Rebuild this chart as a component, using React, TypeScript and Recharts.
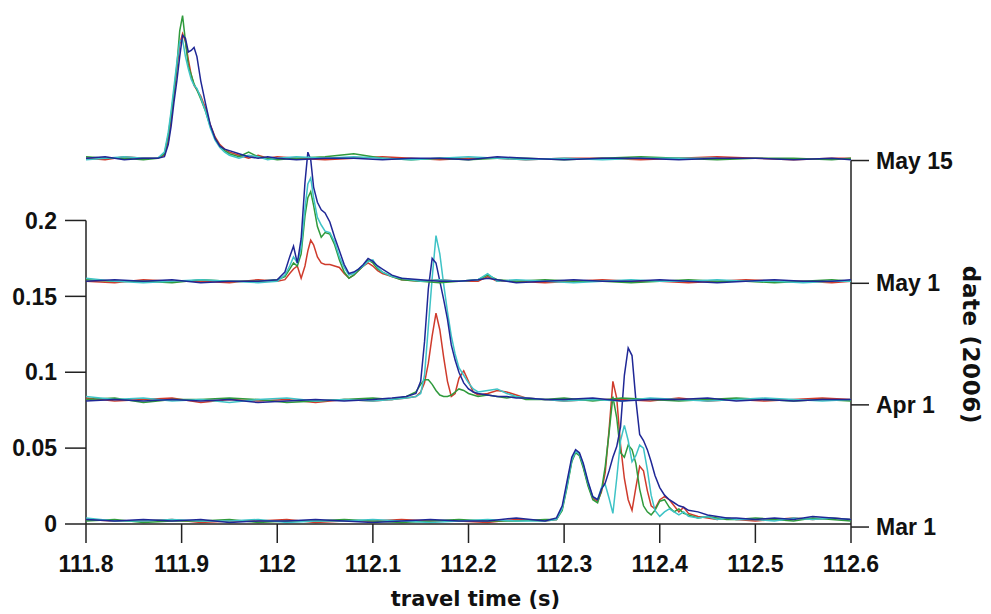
import React from "react";
import { LineChart, Line, XAxis, YAxis, ReferenceLine, Label } from "recharts";

// ---- axis ticks / labels ----
const xTicks = [111.8, 111.9, 112, 112.1, 112.2, 112.3, 112.4, 112.5, 112.6];
const leftTicks = [0, 0.05, 0.1, 0.15, 0.2];
const dateTicks = [-0.002, 0.0785, 0.1586, 0.2395];
const dateLabels = ["Mar 1", "Apr 1", "May 1", "May 15"];
const xTitle = "travel time (s)";
const rightTitle = "date (2006)";

const seriesColors = { red: "#cf3b2c", green: "#2f9a3c", cyan: "#3ec3c6", blue: "#1f2796" };

// ---- Mar 1 ----
const marTime = [111.8, 111.83, 111.86, 111.89, 111.92, 111.95, 111.98, 112.01, 112.04, 112.07, 112.1, 112.13, 112.16, 112.19, 112.22, 112.25, 112.28, 112.292, 112.298, 112.303, 112.308, 112.312, 112.316, 112.32, 112.325, 112.33, 112.335, 112.339, 112.343, 112.347, 112.351, 112.355, 112.359, 112.363, 112.367, 112.371, 112.375, 112.379, 112.383, 112.387, 112.391, 112.395, 112.4, 112.405, 112.41, 112.415, 112.42, 112.425, 112.43, 112.44, 112.45, 112.46, 112.47, 112.48, 112.5, 112.52, 112.54, 112.56, 112.58, 112.6];
const marRed = [0.003, 0.002, 0.002, 0.003, 0.001, 0.002, 0.002, 0.003, 0.001, 0.002, 0.002, 0.003, 0.002, 0.002, 0.001, 0.003, 0.002, 0.003, 0.01, 0.026, 0.042, 0.048, 0.046, 0.038, 0.026, 0.017, 0.015, 0.021, 0.034, 0.062, 0.094, 0.083, 0.052, 0.03, 0.016, 0.009, 0.024, 0.038, 0.035, 0.022, 0.012, 0.01, 0.016, 0.018, 0.016, 0.012, 0.008, 0.011, 0.007, 0.005, 0.004, 0.003, 0.004, 0.003, 0.002, 0.003, 0.004, 0.003, 0.004, 0.003];
const marGreen = [0.002, 0.003, 0.001, 0.002, 0.002, 0.003, 0.001, 0.002, 0.002, 0.003, 0.002, 0.001, 0.002, 0.003, 0.002, 0.002, 0.003, 0.003, 0.009, 0.024, 0.041, 0.047, 0.045, 0.037, 0.025, 0.016, 0.014, 0.022, 0.038, 0.06, 0.084, 0.07, 0.047, 0.044, 0.052, 0.049, 0.04, 0.023, 0.012, 0.008, 0.006, 0.009, 0.015, 0.016, 0.011, 0.008, 0.01, 0.007, 0.006, 0.004, 0.005, 0.004, 0.003, 0.003, 0.004, 0.003, 0.002, 0.004, 0.003, 0.002];
const marBlue = [0.003, 0.002, 0.003, 0.002, 0.003, 0.001, 0.002, 0.002, 0.003, 0.002, 0.001, 0.002, 0.003, 0.002, 0.002, 0.004, 0.002, 0.004, 0.012, 0.028, 0.044, 0.049, 0.047, 0.04, 0.028, 0.018, 0.016, 0.023, 0.027, 0.035, 0.044, 0.051, 0.064, 0.098, 0.116, 0.111, 0.082, 0.059, 0.055, 0.049, 0.041, 0.032, 0.024, 0.019, 0.016, 0.014, 0.012, 0.011, 0.009, 0.008, 0.006, 0.005, 0.004, 0.004, 0.003, 0.004, 0.003, 0.005, 0.004, 0.003];
const marCyan = [0.004, 0.002, 0.002, 0.003, 0.002, 0.002, 0.003, 0.001, 0.002, 0.002, 0.003, 0.002, 0.001, 0.002, 0.003, 0.002, 0.002, 0.003, 0.01, 0.025, 0.042, 0.048, 0.046, 0.039, 0.027, 0.018, 0.016, 0.024, 0.026, 0.017, 0.007, 0.03, 0.055, 0.065, 0.055, 0.041, 0.045, 0.052, 0.05, 0.036, 0.019, 0.009, 0.005, 0.008, 0.01, 0.008, 0.006, 0.008, 0.005, 0.004, 0.005, 0.003, 0.004, 0.003, 0.003, 0.002, 0.004, 0.003, 0.004, 0.003];

// ---- Apr 1 ----
const aprTime = [111.8, 111.83, 111.86, 111.89, 111.92, 111.95, 111.98, 112.01, 112.04, 112.07, 112.1, 112.12, 112.135, 112.145, 112.15, 112.154, 112.158, 112.162, 112.166, 112.17, 112.174, 112.178, 112.182, 112.186, 112.19, 112.195, 112.2, 112.205, 112.21, 112.22, 112.23, 112.24, 112.25, 112.26, 112.28, 112.3, 112.33, 112.36, 112.39, 112.42, 112.45, 112.48, 112.51, 112.54, 112.57, 112.6];
const aprRed = [0.083, 0.081, 0.082, 0.083, 0.08, 0.082, 0.081, 0.082, 0.08, 0.082, 0.081, 0.082, 0.083, 0.084, 0.087, 0.093, 0.106, 0.124, 0.139, 0.128, 0.11, 0.094, 0.084, 0.086, 0.096, 0.101, 0.094, 0.087, 0.085, 0.086, 0.088, 0.087, 0.085, 0.083, 0.082, 0.081, 0.082, 0.082, 0.081, 0.083, 0.081, 0.082, 0.081, 0.082, 0.083, 0.082];
const aprGreen = [0.082, 0.083, 0.08, 0.082, 0.082, 0.083, 0.082, 0.08, 0.081, 0.082, 0.083, 0.082, 0.084, 0.087, 0.092, 0.095, 0.095, 0.092, 0.088, 0.085, 0.084, 0.084, 0.085, 0.087, 0.089, 0.088, 0.086, 0.085, 0.084, 0.085, 0.084, 0.083, 0.084, 0.082, 0.082, 0.083, 0.081, 0.083, 0.082, 0.081, 0.082, 0.083, 0.082, 0.081, 0.082, 0.081];
const aprBlue = [0.081, 0.082, 0.081, 0.082, 0.081, 0.082, 0.08, 0.081, 0.082, 0.081, 0.082, 0.083, 0.084, 0.086, 0.094, 0.12, 0.155, 0.175, 0.172, 0.16, 0.148, 0.135, 0.118, 0.108, 0.1, 0.093, 0.089, 0.087, 0.086, 0.085, 0.084, 0.084, 0.083, 0.083, 0.082, 0.082, 0.083, 0.081, 0.082, 0.082, 0.083, 0.081, 0.082, 0.081, 0.082, 0.082];
const aprCyan = [0.084, 0.082, 0.083, 0.081, 0.082, 0.08, 0.082, 0.083, 0.081, 0.082, 0.081, 0.082, 0.083, 0.084, 0.086, 0.098, 0.13, 0.162, 0.19, 0.178, 0.158, 0.14, 0.124, 0.112, 0.103, 0.098, 0.093, 0.089, 0.087, 0.088, 0.089, 0.086, 0.084, 0.083, 0.082, 0.081, 0.082, 0.081, 0.083, 0.082, 0.081, 0.082, 0.083, 0.082, 0.081, 0.082];

// ---- May 1 ----
const may1Time = [111.8, 111.83, 111.86, 111.89, 111.92, 111.95, 111.98, 112.0, 112.008, 112.013, 112.017, 112.021, 112.025, 112.029, 112.032, 112.035, 112.038, 112.042, 112.046, 112.05, 112.055, 112.06, 112.065, 112.07, 112.075, 112.08, 112.085, 112.09, 112.095, 112.1, 112.105, 112.11, 112.12, 112.13, 112.15, 112.17, 112.19, 112.21, 112.22, 112.23, 112.25, 112.28, 112.31, 112.34, 112.37, 112.4, 112.43, 112.46, 112.49, 112.52, 112.55, 112.58, 112.6];
const may1Red = [0.16, 0.159, 0.161, 0.16, 0.16, 0.159, 0.161, 0.16, 0.161, 0.165, 0.168, 0.17, 0.162, 0.17, 0.18, 0.187, 0.184, 0.176, 0.172, 0.171, 0.171, 0.17, 0.169, 0.165, 0.162, 0.164, 0.167, 0.17, 0.172, 0.17, 0.167, 0.165, 0.163, 0.161, 0.16, 0.161, 0.16, 0.16, 0.163, 0.16, 0.16, 0.159, 0.16, 0.161, 0.16, 0.16, 0.159, 0.16, 0.161, 0.16, 0.16, 0.159, 0.16];
const may1Green = [0.161, 0.16, 0.16, 0.159, 0.161, 0.16, 0.16, 0.161, 0.163, 0.168, 0.172, 0.17, 0.178, 0.203, 0.215, 0.219, 0.21, 0.196, 0.189, 0.192, 0.191, 0.184, 0.174, 0.166, 0.162, 0.164, 0.167, 0.17, 0.174, 0.172, 0.168, 0.166, 0.163, 0.161, 0.16, 0.159, 0.16, 0.161, 0.164, 0.161, 0.16, 0.161, 0.16, 0.16, 0.159, 0.16, 0.161, 0.16, 0.16, 0.159, 0.16, 0.161, 0.16];
const may1Blue = [0.16, 0.161, 0.16, 0.161, 0.159, 0.16, 0.16, 0.161, 0.166, 0.176, 0.183, 0.172, 0.188, 0.225, 0.245, 0.24, 0.222, 0.212, 0.207, 0.205, 0.199, 0.189, 0.18, 0.171, 0.165, 0.166, 0.168, 0.171, 0.175, 0.173, 0.17, 0.168, 0.164, 0.162, 0.161, 0.16, 0.16, 0.161, 0.162, 0.161, 0.159, 0.16, 0.161, 0.16, 0.16, 0.161, 0.16, 0.159, 0.16, 0.161, 0.16, 0.16, 0.161];
const may1Cyan = [0.162, 0.16, 0.159, 0.16, 0.161, 0.16, 0.159, 0.16, 0.164, 0.17, 0.176, 0.172, 0.182, 0.208, 0.224, 0.228, 0.215, 0.202, 0.197, 0.193, 0.192, 0.186, 0.176, 0.169, 0.164, 0.165, 0.168, 0.17, 0.173, 0.174, 0.169, 0.166, 0.163, 0.162, 0.16, 0.161, 0.16, 0.161, 0.165, 0.16, 0.161, 0.16, 0.159, 0.16, 0.161, 0.16, 0.16, 0.161, 0.16, 0.16, 0.159, 0.16, 0.16];

// ---- May 15 ----
const may15Time = [111.8, 111.82, 111.84, 111.86, 111.875, 111.882, 111.886, 111.889, 111.892, 111.895, 111.898, 111.901, 111.904, 111.907, 111.91, 111.913, 111.916, 111.92, 111.925, 111.93, 111.935, 111.94, 111.945, 111.95, 111.96, 111.97, 111.98, 111.99, 112.0, 112.02, 112.05, 112.08, 112.11, 112.14, 112.17, 112.2, 112.23, 112.26, 112.3, 112.34, 112.38, 112.42, 112.46, 112.5, 112.54, 112.58, 112.6];
const may15Red = [0.241, 0.24, 0.242, 0.241, 0.241, 0.243, 0.252, 0.266, 0.283, 0.3, 0.316, 0.323, 0.318, 0.306, 0.296, 0.289, 0.286, 0.282, 0.274, 0.263, 0.255, 0.25, 0.247, 0.245, 0.243, 0.241, 0.243, 0.241, 0.242, 0.241, 0.24, 0.241, 0.242, 0.241, 0.24, 0.241, 0.241, 0.24, 0.241, 0.241, 0.24, 0.241, 0.242, 0.241, 0.24, 0.241, 0.241];
const may15Green = [0.242, 0.241, 0.241, 0.24, 0.241, 0.244, 0.256, 0.27, 0.285, 0.302, 0.325, 0.335, 0.318, 0.302, 0.296, 0.29, 0.286, 0.28, 0.272, 0.262, 0.254, 0.249, 0.246, 0.244, 0.242, 0.245, 0.242, 0.241, 0.24, 0.241, 0.242, 0.244, 0.241, 0.24, 0.241, 0.24, 0.241, 0.241, 0.24, 0.241, 0.242, 0.241, 0.24, 0.241, 0.241, 0.24, 0.241];
const may15Blue = [0.241, 0.242, 0.24, 0.241, 0.241, 0.242, 0.25, 0.262, 0.278, 0.292, 0.308, 0.322, 0.32, 0.311, 0.312, 0.314, 0.308, 0.292, 0.277, 0.263, 0.254, 0.249, 0.247, 0.246, 0.244, 0.242, 0.241, 0.242, 0.241, 0.24, 0.241, 0.241, 0.24, 0.241, 0.241, 0.24, 0.242, 0.241, 0.24, 0.241, 0.241, 0.24, 0.241, 0.241, 0.24, 0.241, 0.24];
const may15Cyan = [0.24, 0.241, 0.242, 0.241, 0.241, 0.245, 0.258, 0.272, 0.288, 0.304, 0.318, 0.319, 0.308, 0.3, 0.293, 0.289, 0.287, 0.281, 0.272, 0.261, 0.253, 0.248, 0.245, 0.243, 0.241, 0.243, 0.242, 0.24, 0.241, 0.242, 0.241, 0.242, 0.241, 0.24, 0.241, 0.242, 0.241, 0.24, 0.241, 0.24, 0.241, 0.241, 0.241];

const mk = (times: number[], vals: number[]) => times.map((t, i) => ({ t, v: vals[i] }));

const groups = [
  { name: "mar", time: marTime, red: marRed, green: marGreen, cyan: marCyan, blue: marBlue },
  { name: "apr", time: aprTime, red: aprRed, green: aprGreen, cyan: aprCyan, blue: aprBlue },
  { name: "may1", time: may1Time, red: may1Red, green: may1Green, cyan: may1Cyan, blue: may1Blue },
  { name: "may15", time: may15Time, red: may15Red, green: may15Green, cyan: may15Cyan, blue: may15Blue },
];

const colorOrder: Array<"red" | "green" | "cyan" | "blue"> = ["red", "green", "cyan", "blue"];

const numFont = { fontFamily: "'Liberation Sans', Arial, sans-serif", fontWeight: 700, fontSize: 23, fill: "#111" };
const axisStroke = "#222";

const XTitle = (props: any) => {
  const vb = props.viewBox || { x: 78, y: 516, width: 765, height: 90 };
  const x = vb.x + vb.width / 2 + 7;
  const y = vb.y + vb.height - 8;
  return (
    <text x={x} y={y} textAnchor="middle" style={{ fontFamily: "'DejaVu Sans', sans-serif", fontWeight: 700, fontSize: 21, fill: "#111" }}>
      {xTitle}
    </text>
  );
};

const RightTitle = (props: any) => {
  const vb = props.viewBox || { x: 843, y: 0, width: 140, height: 516 };
  const x = vb.x + vb.width - 20;
  const y = vb.y + vb.height * 0.653;
  return (
    <text
      x={x}
      y={y}
      transform={`rotate(90 ${x} ${y})`}
      textAnchor="middle"
      dominantBaseline="central"
      style={{ fontFamily: "'DejaVu Sans', sans-serif", fontWeight: 700, fontSize: 23, letterSpacing: 0.6, fill: "#111" }}
    >
      {rightTitle}
    </text>
  );
};

export default function App() {
  return (
    <div style={{ width: 983, height: 606, background: "#fff" }}>
      <LineChart width={983} height={606} margin={{ top: 0, right: 0, bottom: 0, left: 0 }}>
        <XAxis
          type="number"
          dataKey="t"
          domain={[111.8, 112.6]}
          ticks={xTicks}
          allowDataOverflow
          interval={0}
          height={90}
          tickSize={19}
          tickMargin={13}
          axisLine={{ stroke: axisStroke, strokeWidth: 1.5 }}
          tickLine={{ stroke: axisStroke, strokeWidth: 1.5 }}
          tick={numFont}
        >
          <Label content={<XTitle />} />
        </XAxis>
        <YAxis
          yAxisId="left"
          type="number"
          domain={[0, 0.34]}
          ticks={leftTicks}
          allowDataOverflow
          interval={0}
          width={78}
          tickSize={21}
          tickMargin={8}
          axisLine={false}
          tickLine={{ stroke: axisStroke, strokeWidth: 1.5 }}
          tick={numFont}
        />
        <YAxis
          yAxisId="right"
          orientation="right"
          type="number"
          domain={[0, 0.34]}
          ticks={dateTicks}
          allowDataOverflow
          interval={0}
          width={140}
          tickSize={18}
          tickMargin={7}
          axisLine={false}
          tickLine={{ stroke: axisStroke, strokeWidth: 1.5 }}
          tick={numFont}
          tickFormatter={(v: number) => {
            const i = dateTicks.indexOf(v);
            return i >= 0 ? dateLabels[i] : "";
          }}
        >
          <Label content={<RightTitle />} />
        </YAxis>
        <ReferenceLine
          yAxisId="left"
          segment={[{ x: 111.8, y: 0 }, { x: 111.8, y: 0.2 }]}
          stroke={axisStroke}
          strokeWidth={1.5}
          ifOverflow="visible"
        />
        <ReferenceLine
          yAxisId="left"
          segment={[{ x: 112.6, y: 0 }, { x: 112.6, y: dateTicks[3] }]}
          stroke={axisStroke}
          strokeWidth={1.5}
          ifOverflow="visible"
        />
        {groups.map((g) =>
          colorOrder.map((c) => (
            <Line
              key={g.name + c}
              yAxisId="left"
              data={mk(g.time, (g as any)[c])}
              dataKey="v"
              type="linear"
              stroke={seriesColors[c]}
              strokeWidth={1.5}
              dot={false}
              activeDot={false}
              isAnimationActive={false}
            />
          ))
        )}
      </LineChart>
    </div>
  );
}
